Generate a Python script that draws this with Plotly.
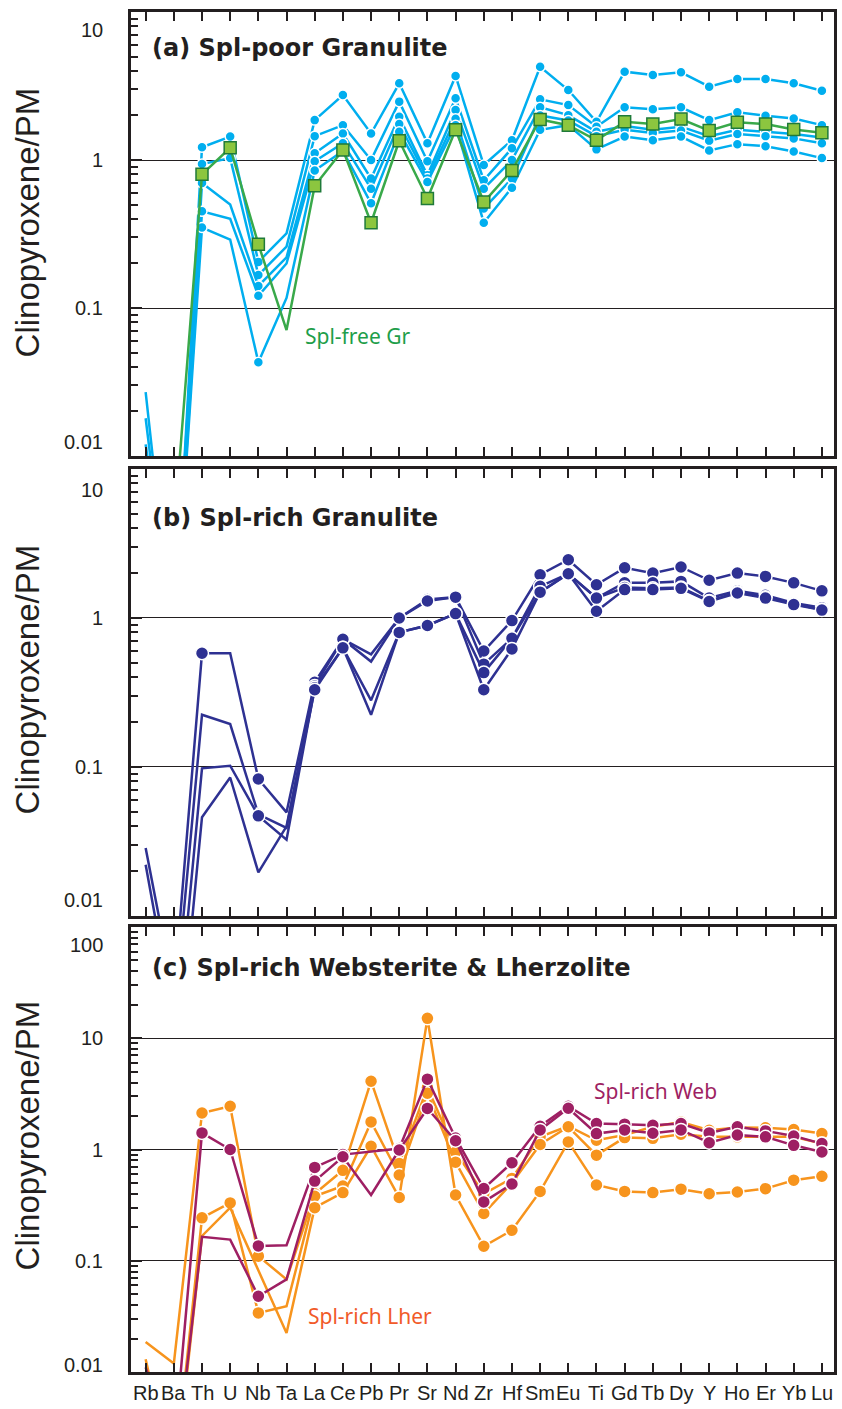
import math
import plotly.graph_objects as go

# ---------------- data ----------------
ELEMENTS = ["Rb", "Ba", "Th", "U", "Nb", "Ta", "La", "Ce", "Pb", "Pr", "Sr", "Nd", "Zr",
            "Hf", "Sm", "Eu", "Ti", "Gd", "Tb", "Dy", "Y", "Ho", "Er", "Yb", "Lu"]

# (a) Spl-poor granulite clinopyroxenes (blue) and Spl-free granulite (green)
A_POOR_1 = [0.027, 0.0005, 1.22, 1.44, 0.205, 0.32, 1.86, 2.75, 1.51, 3.30, 1.30, 3.70, 0.925,
            1.36, 4.27, 2.97, 1.81, 3.95, 3.75, 3.91, 3.13, 3.53, 3.53, 3.30, 2.94]
A_POOR_2 = [0.018, 0.0005, 0.94, 1.03, 0.167, 0.26, 1.45, 1.72, 1.00, 2.48, 0.98, 2.61, 0.73,
            1.20, 2.57, 2.35, 1.68, 2.27, 2.20, 2.27, 1.86, 2.10, 1.99, 1.91, 1.72]
A_POOR_3 = [0.012, 0.0005, 0.70, 0.50, 0.141, 0.22, 1.11, 1.51, 0.75, 1.96, 0.79, 2.18, 0.64,
            1.00, 2.27, 2.01, 1.55, 1.70, 1.60, 1.68, 1.45, 1.60, 1.55, 1.50, 1.42]
A_POOR_4 = [0.008, 0.0005, 0.45, 0.40, 0.121, 0.20, 0.98, 1.30, 0.64, 1.75, 0.75, 1.90, 0.47,
            0.75, 2.00, 1.85, 1.45, 1.60, 1.52, 1.58, 1.35, 1.50, 1.45, 1.40, 1.30]
A_POOR_5 = [0.006, 0.0005, 0.35, 0.29, 0.043, 0.117, 0.85, 1.15, 0.51, 1.55, 0.71, 1.72, 0.377,
            0.65, 1.60, 1.72, 1.18, 1.44, 1.36, 1.44, 1.16, 1.28, 1.24, 1.14, 1.03]
A_FREE = [0.002, 0.003, 0.80, 1.21, 0.27, 0.071, 0.67, 1.17, 0.377, 1.35, 0.55, 1.60, 0.52,
          0.85, 1.88, 1.72, 1.36, 1.81, 1.75, 1.89, 1.58, 1.80, 1.75, 1.61, 1.53]

# (b) Spl-rich granulite clinopyroxenes
B_RICH_1 = [0.0286, 0.003, 0.58, 0.58, 0.083, 0.0496, 0.37, 0.72, 0.57, 1.00, 1.33, 1.38, 0.60,
            0.96, 1.95, 2.46, 1.67, 2.17, 2.00, 2.20, 1.79, 2.00, 1.90, 1.72, 1.52]
B_RICH_2 = [0.0221, 0.002, 0.224, 0.194, 0.048, 0.039, 0.35, 0.72, 0.51, 1.00, 1.30, 1.38, 0.49,
            0.73, 1.63, 1.98, 1.36, 1.72, 1.72, 1.76, 1.36, 1.52, 1.42, 1.26, 1.17]
B_RICH_3 = [0.005, 0.001, 0.098, 0.102, 0.047, 0.0325, 0.34, 0.63, 0.28, 0.80, 0.89, 1.07, 0.43,
            0.73, 1.49, 1.98, 1.36, 1.60, 1.58, 1.60, 1.30, 1.49, 1.38, 1.24, 1.14]
B_RICH_4 = [0.003, 0.0005, 0.046, 0.085, 0.0196, 0.040, 0.33, 0.63, 0.224, 0.80, 0.89, 1.07, 0.33,
            0.62, 1.49, 1.98, 1.11, 1.55, 1.55, 1.58, 1.29, 1.47, 1.36, 1.23, 1.13]

# (c) Spl-rich lherzolite (orange) and websterite (maroon)
C_LHER_1 = [0.0186, 0.0119, 2.13, 2.45, 0.110, 0.068, 0.40, 0.65, 4.11, 0.75, 3.60, 0.95, 0.40,
            0.55, 1.30, 1.62, 1.21, 1.35, 1.60, 1.77, 1.49, 1.58, 1.57, 1.51, 1.39]
C_LHER_2 = [0.013, 0.001, 0.243, 0.331, 0.034, 0.039, 0.38, 0.47, 1.77, 0.59, 3.20, 0.77, 0.266,
            0.50, 1.11, 1.60, 0.89, 1.28, 1.26, 1.37, 1.30, 1.30, 1.30, 1.30, 1.13]
C_LHER_3 = [0.005, 0.0008, 0.167, 0.30, None, 0.0224, 0.30, 0.41, 1.07, 0.37, 15.1, 0.39, 0.135,
            0.188, 0.42, 1.17, 0.48, 0.42, 0.41, 0.44, 0.40, 0.415, 0.445, 0.53, 0.575]
C_WEB_1 = [0.011, 0.002, 1.41, 1.00, 0.136, 0.138, 0.69, 0.90, None, 1.02, 4.29, 1.27, 0.446,
           0.76, 1.62, 2.45, 1.71, 1.69, 1.65, 1.71, 1.41, 1.60, 1.47, 1.32, 1.13]
C_WEB_2 = [0.004, 0.001, 0.164, 0.155, 0.048, 0.068, 0.52, 0.86, 0.39, 0.99, 2.34, 1.20, 0.338,
           0.49, 1.50, 2.35, 1.39, 1.50, 1.40, 1.50, 1.15, 1.35, 1.30, 1.09, 0.95]

# elements plotted without a symbol (line passes through only)
NO_SYMBOL_COMMON = ["Rb", "Ba", "Ta"]

Y_TICKS_AB = [0.01, 0.1, 1, 10]
Y_TICKTEXT_AB = ["0.01", "0.1", "1", "10"]
Y_TICKS_C = [0.01, 0.1, 1, 10, 100]
Y_TICKTEXT_C = ["0.01", "0.1", "1", "10", "100"]

PANEL_TITLES = ["(a) Spl-poor Granulite", "(b) Spl-rich Granulite",
                "(c) Spl-rich Websterite & Lherzolite"]
Y_TITLE = "Clinopyroxene/PM"

# ---------------- style ----------------
DARK = "#231f20"
BLUE = "#00aeef"
GREEN_LINE = "#39a94a"
GREEN_FILL = "#8cc63f"
GREEN_EDGE = "#1f7a3a"
GREEN_TEXT = "#1e9e4a"
NAVY = "#2e3192"
MAROON = "#9e1f63"
ORANGE = "#f7941d"
LHER_TEXT = "#f15a29"
BASE_FONT = "Liberation Sans, Arial, sans-serif"
TITLE_FONT = "DejaVu Sans, Liberation Sans, sans-serif"
LABEL_FONT = "Noto Sans, Open Sans, sans-serif"

fig = go.Figure()


def add_sample(values, no_symbol, xa, ya, color, msize, symbol="circle",
               mfill=None, medge="white", medge_w=1.5, lw=2.5):
    fig.add_trace(go.Scatter(
        x=ELEMENTS, y=values, mode="lines", connectgaps=True,
        line=dict(color=color, width=lw), xaxis=xa, yaxis=ya,
        hoverinfo="skip", showlegend=False))
    my = [None if (e in no_symbol) else v for e, v in zip(ELEMENTS, values)]
    fig.add_trace(go.Scatter(
        x=ELEMENTS, y=my, mode="markers",
        marker=dict(symbol=symbol, size=msize, color=mfill or color,
                    line=dict(color=medge, width=medge_w)),
        xaxis=xa, yaxis=ya, showlegend=False))


# panel a
add_sample(A_POOR_1, NO_SYMBOL_COMMON, "x", "y", BLUE, 10)
add_sample(A_POOR_2, NO_SYMBOL_COMMON, "x", "y", BLUE, 10)
add_sample(A_POOR_3, NO_SYMBOL_COMMON + ["U"], "x", "y", BLUE, 10)
add_sample(A_POOR_4, NO_SYMBOL_COMMON + ["U"], "x", "y", BLUE, 10)
add_sample(A_POOR_5, NO_SYMBOL_COMMON + ["U"], "x", "y", BLUE, 10)
add_sample(A_FREE, NO_SYMBOL_COMMON, "x", "y", GREEN_LINE, 12, symbol="square",
           mfill=GREEN_FILL, medge=GREEN_EDGE, medge_w=1.5)

# panel b
b_hidden = NO_SYMBOL_COMMON + ["U", "Pb"]
add_sample(B_RICH_1, b_hidden, "x2", "y2", NAVY, 13)
add_sample(B_RICH_2, b_hidden + ["Th"], "x2", "y2", NAVY, 13)
add_sample(B_RICH_3, b_hidden + ["Th"], "x2", "y2", NAVY, 13)
add_sample(B_RICH_4, b_hidden + ["Th", "Nb"], "x2", "y2", NAVY, 13)

# panel c
add_sample(C_LHER_1, NO_SYMBOL_COMMON, "x3", "y3", ORANGE, 13)
add_sample(C_LHER_2, NO_SYMBOL_COMMON, "x3", "y3", ORANGE, 13)
add_sample(C_LHER_3, NO_SYMBOL_COMMON + ["Th", "U"], "x3", "y3", ORANGE, 13)
add_sample(C_WEB_1, NO_SYMBOL_COMMON, "x3", "y3", MAROON, 13)
add_sample(C_WEB_2, NO_SYMBOL_COMMON + ["Th", "U", "Pb"], "x3", "y3", MAROON, 13)

# ---------------- axes ----------------
X_RANGE = [-0.52, 24.43]
domains = {"a": [0.6735, 1.0], "b": [0.3353, 0.6640], "c": [0.0, 0.3272]}


def xaxis(anchor):
    return dict(
        domain=[0, 1], anchor=anchor, type="category", range=X_RANGE,
        showticklabels=False,
        ticks="inside", ticklen=9, tickwidth=2, tickcolor=DARK,
        showline=True, linewidth=2.5, linecolor=DARK, mirror="ticks",
        showgrid=False, zeroline=False,
    )


def yaxis(anchor, dom, lo, hi):
    return dict(
        domain=dom, anchor=anchor, type="log", range=[lo, hi],
        dtick=1, showticklabels=False,
        ticks="inside", ticklen=11, tickwidth=2, tickcolor=DARK,
        minor=dict(ticks="inside", ticklen=7, tickwidth=2, tickcolor=DARK, dtick="D1"),
        showline=True, linewidth=2.5, linecolor=DARK, mirror=True,
        showgrid=True, gridcolor=DARK, gridwidth=1.3, zeroline=False,
    )


fig.update_layout(
    width=842, height=1409,
    margin=dict(l=131, r=5, t=12, b=37),
    paper_bgcolor="white", plot_bgcolor="white",
    showlegend=False,
    xaxis=xaxis("y"),
    xaxis2=xaxis("y2"),
    xaxis3=xaxis("y3"),
    yaxis=yaxis("x", domains["a"], -2, 1),
    yaxis2=yaxis("x2", domains["b"], -2, 1),
    yaxis3=yaxis("x3", domains["c"], -2, 2),
)

annotations = []
# element labels under the bottom panel
for i, el in enumerate(ELEMENTS):
    annotations.append(dict(
        xref="x3", yref="y3 domain", x=i, y=0, text=el, showarrow=False,
        xanchor="center", yanchor="middle", yshift=-21,
        font=dict(family=BASE_FONT, size=20, color=DARK)))

# y tick labels (end labels sit inside the frame as in the original)
LABEL_X = (105 - 131) / 706
for yref, vals, texts, top_shift, bot_shift in [
        ("y", Y_TICKS_AB, Y_TICKTEXT_AB, -18, 14),
        ("y2", Y_TICKS_AB, Y_TICKTEXT_AB, -21, 16),
        ("y3", Y_TICKS_C, Y_TICKTEXT_C, -18, 7)]:
    for i, (v, t) in enumerate(zip(vals, texts)):
        shift = bot_shift if i == 0 else (top_shift if i == len(vals) - 1 else 0)
        annotations.append(dict(
            xref="paper", yref=yref, x=LABEL_X, y=math.log10(v), text=t,
            showarrow=False, xanchor="right", yanchor="middle", yshift=shift,
            font=dict(family=BASE_FONT, size=20, color=DARK)))

# y-axis titles
for ycen in [0.8456, 0.5096, 0.1743]:
    annotations.append(dict(
        xref="paper", yref="paper", x=(28 - 131) / 706, y=ycen, text=Y_TITLE,
        textangle=-90, showarrow=False, xanchor="center", yanchor="middle",
        font=dict(family=BASE_FONT, size=33, color=DARK)))

# panel titles
for (xr, yr), title, yy in zip([("x domain", "y domain"), ("x2 domain", "y2 domain"),
                                ("x3 domain", "y3 domain")], PANEL_TITLES,
                               [0.919, 0.890, 0.908]):
    annotations.append(dict(
        xref=xr, yref=yr, x=0.027, y=yy, text="<b>" + title + "</b>",
        showarrow=False, xanchor="left", yanchor="middle",
        font=dict(family=TITLE_FONT, size=24, color=DARK)))

# series labels
annotations.append(dict(xref="x", yref="y", x=7.54, y=-1.19, text="Spl-free Gr",
                        showarrow=False, font=dict(family=LABEL_FONT, size=21, color=GREEN_TEXT)))
annotations.append(dict(xref="x3", yref="y3", x=18.1, y=0.524, text="Spl-rich Web",
                        showarrow=False, font=dict(family=LABEL_FONT, size=21, color=MAROON)))
annotations.append(dict(xref="x3", yref="y3", x=7.96, y=-1.499, text="Spl-rich Lher",
                        showarrow=False, font=dict(family=LABEL_FONT, size=21, color=LHER_TEXT)))

fig.update_layout(annotations=annotations)
fig.write_html("out.html")
